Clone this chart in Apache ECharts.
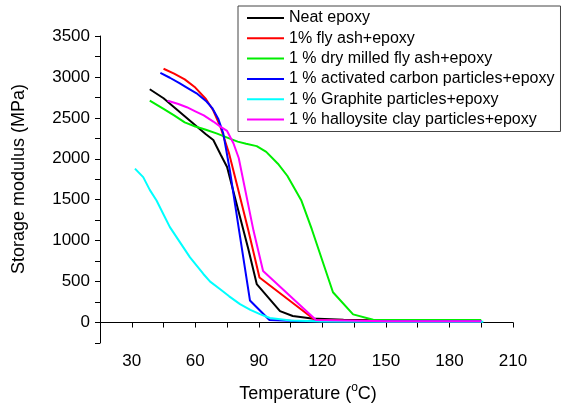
<!DOCTYPE html>
<html>
<head>
<meta charset="utf-8">
<script src="https://cdn.jsdelivr.net/npm/echarts@6/dist/echarts.min.js"></script>
<style>
html,body{margin:0;padding:0;background:#fff;}
#chart{width:563px;height:409px;}
</style>
</head>
<body>
<div id="chart"></div>
<script>
// ---- Data (Temperature °C, Storage modulus MPa) ----
var seriesNames = [
  'Neat epoxy',
  '1% fly ash+epoxy',
  '1 % dry milled fly ash+epoxy',
  '1 % activated carbon particles+epoxy',
  '1 % Graphite particles+epoxy',
  '1 % halloysite clay particles+epoxy'
];
var seriesColors = ['#000000', '#ff0000', '#00ee00', '#0000ff', '#00ffff', '#ff00ff'];

var neatEpoxy = [[38.5,2850],[45,2740],[50,2630],[55,2520],[60,2410],[65,2300],[68.5,2230],[72,2050],[75,1900],[80,1400],[85,900],[89,470],[95,290],[100,140],[106,80],[115,50],[130,35],[150,25],[195,20]];
var flyAsh = [[45,3100],[50,3040],[55,2970],[60,2870],[65,2730],[68.5,2590],[72,2380],[76,2060],[80,1650],[85,1130],[90.3,550],[116.5,30],[130,25],[150,20],[195,20]];
var dryMilledFlyAsh = [[38.5,2710],[45,2610],[50,2530],[55,2445],[60,2395],[65,2355],[70,2310],[76,2250],[80,2210],[84,2185],[89,2155],[93.5,2085],[99,1940],[103.5,1790],[110,1495],[115,1140],[125,370],[134.5,100],[144,35],[160,30],[195,30]];
var activatedCarbon = [[43.5,3050],[48,2990],[52.7,2920],[56,2870],[60.6,2800],[65.3,2700],[68,2620],[70.8,2490],[73.2,2310],[76.3,1860],[80.7,1120],[85.8,270],[95,30],[110,15],[195,15]];
var graphite = [[31.5,1880],[35.4,1776],[38.5,1620],[41.7,1490],[45,1320],[48,1165],[52,1010],[57.5,796],[63.8,593],[67,500],[71.6,409],[76,320],[81.1,225],[86,155],[90.5,103],[95.2,55],[105,25],[120,12],[150,10],[196,10]];
var halloysite = [[47,2710],[52,2670],[56,2630],[60,2580],[64,2530],[68.5,2455],[72,2390],[75,2340],[78,2190],[80.5,2010],[87.5,1120],[92,630],[117,30],[150,15],[195,15]];

var allData = [neatEpoxy, flyAsh, dryMilledFlyAsh, activatedCarbon, graphite, halloysite];

// Axis ticks
var xMin = 15, xMax = 210, xStep = 15, xLabelStep = 30;
var yMin = -250, yMax = 3500, yStep = 250, yLabelStep = 500;

var FONT = '"Liberation Sans", Arial, sans-serif';

// measure text widths for the x-axis title with superscript
var cnv = document.createElement('canvas').getContext('2d');
function tw(t, size) { cnv.font = size + 'px ' + FONT; return cnv.measureText(t).width; }
var tA = 'Temperature (', tS = 'o', tB = 'C)';
var wA = tw(tA, 18), wS = tw(tS, 12), wB = tw(tB, 18);
var titleCx = 308, titleCy = 394;
var startX = titleCx - (wA + wS + wB) / 2;

var chart = echarts.init(document.getElementById('chart'), null, {renderer: 'canvas'});

var series = allData.map(function (d, i) {
  return {
    name: seriesNames[i],
    type: 'line',
    data: d,
    symbol: 'none',
    smooth: false,
    lineStyle: {color: seriesColors[i], width: 2},
    itemStyle: {color: seriesColors[i]},
    z: 2 + i
  };
});

chart.setOption({
  animation: false,
  backgroundColor: '#ffffff',
  textStyle: {fontFamily: FONT},
  grid: {left: 100, top: 36, right: 50, bottom: 66, outerBoundsMode: 'none', containLabel: false},
  legend: {
    orient: 'vertical',
    left: 238,
    top: 6,
    data: seriesNames,
    icon: 'rect',
    itemWidth: 37,
    itemHeight: 2,
    itemGap: 4.3,
    padding: [4, 6, 4, 9],
    borderColor: '#444',
    borderWidth: 1,
    textStyle: {fontFamily: FONT, fontSize: 16, color: '#000'},
    selectedMode: false
  },
  xAxis: {
    type: 'value',
    min: xMin, max: xMax, interval: xStep,
    axisLine: {show: true, lineStyle: {color: '#000', width: 1}},
    axisTick: {show: true, length: 5, lineStyle: {color: '#000'}},
    splitLine: {show: false},
    axisLabel: {
      fontFamily: FONT, fontSize: 17, color: '#000', margin: 10,
      formatter: function (v) { return (v % xLabelStep === 0) ? String(v) : ''; },
      showMinLabel: true, showMaxLabel: true
    }
  },
  yAxis: {
    type: 'value',
    min: yMin, max: yMax, interval: yStep,
    axisLine: {show: true, lineStyle: {color: '#000', width: 1}},
    axisTick: {show: true, length: 5, lineStyle: {color: '#000'}},
    splitLine: {show: false},
    axisLabel: {
      fontFamily: FONT, fontSize: 17, color: '#000', margin: 10,
      formatter: function (v) { return (v % yLabelStep === 0) ? String(v) : ''; }
    }
  },
  graphic: [
    {
      type: 'text',
      x: 19, y: 179,
      rotation: Math.PI / 2,
      style: {
        text: 'Storage modulus (MPa)',
        font: '18px ' + FONT,
        fill: '#000',
        align: 'center',
        verticalAlign: 'middle'
      }
    },
    {
      type: 'text',
      x: startX, y: titleCy,
      style: {text: tA, font: '18px ' + FONT, fill: '#000', align: 'left', verticalAlign: 'middle'}
    },
    {
      type: 'text',
      x: startX + wA, y: titleCy - 6,
      style: {text: tS, font: '12px ' + FONT, fill: '#000', align: 'left', verticalAlign: 'middle'}
    },
    {
      type: 'text',
      x: startX + wA + wS, y: titleCy,
      style: {text: tB, font: '18px ' + FONT, fill: '#000', align: 'left', verticalAlign: 'middle'}
    }
  ],
  series: series
});
</script>
</body>
</html>
